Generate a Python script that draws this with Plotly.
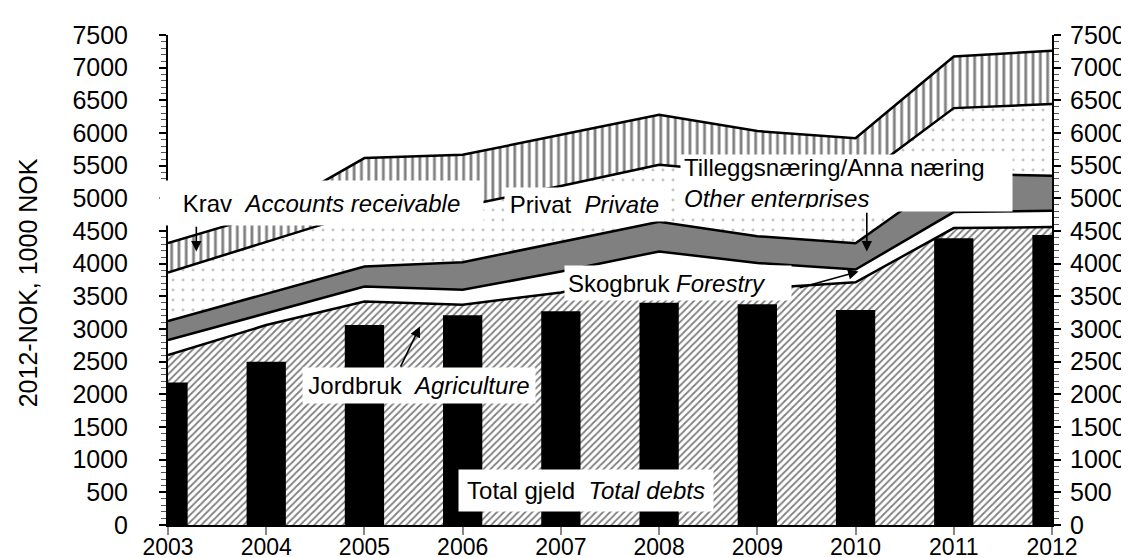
import plotly.graph_objects as go

years = [2003, 2004, 2005, 2006, 2007, 2008, 2009, 2010, 2011, 2012]
total_debts = [2180, 2500, 3060, 3210, 3270, 3400, 3380, 3290, 4390, 4440]
agriculture = [2600, 3060, 3420, 3370, 3560, 3850, 3620, 3715, 4545, 4560]
forestry = [230, 180, 230, 230, 320, 337, 390, 195, 245, 249]
other_enterprises = [290, 300, 307, 423, 455, 453, 410, 404, 590, 536]
private = [745, 790, 843, 857, 855, 873, 960, 946, 1001, 1098]
accounts_receivable = [449, 430, 816, 786, 782, 766, 650, 660, 791, 816]

y_ticks = list(range(0, 7501, 500))

FONT = "Liberation Sans, Arial, sans-serif"
LW = 2.5
TICK_SIZE = 25
ANN_SIZE = 24

fig = go.Figure()

def area(name, vals, fillcolor, pattern=None):
    kw = dict(x=years, y=vals, name=name, mode="lines", stackgroup="s",
              line=dict(color="black", width=LW), fillcolor=fillcolor,
              hoverinfo="skip", showlegend=False)
    if pattern:
        kw["fillpattern"] = pattern
    fig.add_trace(go.Scatter(**kw))

area("Jordbruk", agriculture, "white",
     dict(shape="/", fgcolor="black", bgcolor="white", size=5, solidity=0.35))
area("Skogbruk", forestry, "white")
area("Tilleggsnæring", other_enterprises, "#808080")
area("Privat", private, "white",
     dict(shape=".", fgcolor="#8a8a8a", bgcolor="white", size=10, solidity=0.07))
area("Krav", accounts_receivable, "white",
     dict(shape="|", fgcolor="black", bgcolor="white", size=7.3, solidity=0.38))

fig.add_trace(go.Bar(x=years, y=total_debts, width=0.4, marker=dict(color="black", line=dict(width=0)),
                     xaxis="x2", yaxis="y2", hoverinfo="skip", showlegend=False))

def yaxis_cfg(side, standoff):
    return dict(range=[0, 7500], tickvals=y_ticks, showgrid=False, zeroline=False,
                showline=True, linecolor="black", linewidth=2,
                ticks="outside", ticklen=7, tickwidth=1.5, tickcolor="black",
                minor=dict(dtick=100, ticks="outside", ticklen=5, tickwidth=1, tickcolor="#555"),
                tickfont=dict(size=TICK_SIZE, color="black", family=FONT),
                ticklabelstandoff=standoff, side=side)

fig.update_layout(
    width=1129, height=558,
    margin=dict(l=160, r=85, t=27, b=41, autoexpand=False),
    paper_bgcolor="white", plot_bgcolor="white",
    font=dict(family=FONT, size=ANN_SIZE, color="black"),
    showlegend=False, hovermode=False,
    xaxis=dict(range=[2003, 2012], tickvals=years, showgrid=False, zeroline=False,
               showline=True, linecolor="black", linewidth=2,
               ticks="outside", ticklen=8, tickcolor="#888", tickwidth=1.5,
               ticklabelstandoff=-8,
               tickfont=dict(size=23, color="black", family=FONT)),
    xaxis2=dict(range=[2003, 2012], overlaying="x", visible=False),
    yaxis=yaxis_cfg("left", 26),
    yaxis2=dict(**yaxis_cfg("right", 4), overlaying="y"),
)

def px_x(p):
    return 2003 + (p - 160) / 98.15

def px_y(p):
    return (516.7 - p) / 0.0653

def box(text, cx, cy, w, h, align="center"):
    pad = 3
    fig.add_annotation(x=px_x(cx), y=px_y(cy), xref="x", yref="y", text=text, showarrow=False,
                       xanchor="center", yanchor="middle", bgcolor="white", borderpad=pad,
                       width=w - 2 * pad, height=h - 2 * pad, align=align,
                       font=dict(size=ANN_SIZE, color="black", family=FONT))

def arrow(tx, ty, hx, hy):
    fig.add_annotation(x=px_x(hx), y=px_y(hy), ax=px_x(tx), ay=px_y(ty), xref="x", yref="y",
                       axref="x", ayref="y", text="", showarrow=True, arrowhead=2,
                       arrowsize=1.3, arrowwidth=1.6, arrowcolor="black", standoff=0, startstandoff=0)

arrow(188.3, 217, 188.3, 243.3)
arrow(858.3, 203, 858.3, 243.3)
arrow(790, 280, 850, 263.3)
arrow(391.7, 360, 411.7, 318.3)

box("Krav&nbsp; <i>Accounts receivable</i>", 313, 195, 323, 44)
box("Privat&nbsp; <i>Private</i>", 576.5, 196.5, 159, 33)
box("Tilleggsnæring/Anna næring<br><i>Other enterprises</i>", 838, 175, 331, 56, align="left")
box("Skogbruk <i>Forestry</i>", 670, 275, 226, 34, align="left")
box("Jordbruk&nbsp; <i>Agriculture</i>", 411, 377.5, 232, 35)
box("Total gjeld&nbsp; <i>Total debts</i>", 578, 482.5, 254, 41)

fig.add_annotation(xref="paper", yref="paper", x=(20 - 160) / 884, y=(516.7 - 275) / 490,
                   text="2012-NOK, 1000 NOK", textangle=-90, showarrow=False,
                   xanchor="center", yanchor="middle", font=dict(size=25, color="black", family=FONT))

fig.write_html("out.html")
